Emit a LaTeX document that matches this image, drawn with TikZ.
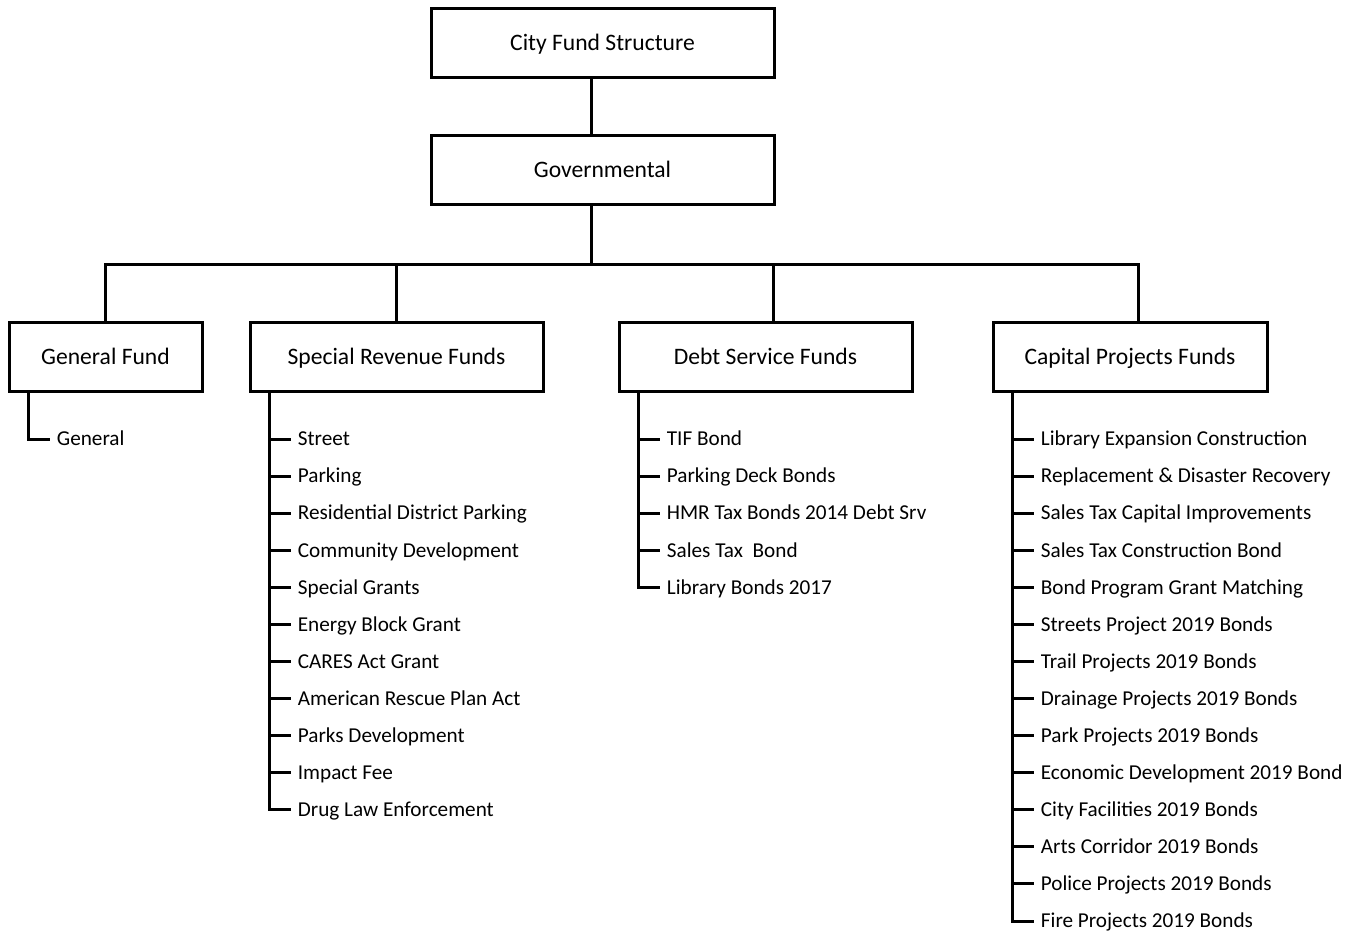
\documentclass[tikz,border=0pt]{standalone}
\usepackage{fontspec}
\setmainfont{Carlito}
\usepackage{xcolor}
\definecolor{fundblack}{RGB}{0, 0, 0}
\definecolor{white}{RGB}{255, 255, 255}

\tikzset{
  fundbox/.style={draw=fundblack, line width=1.5pt, fill=white, minimum height=34.5pt, inner sep=0pt, text height=7.6pt, text depth=0pt, font=\fontsize{11.8}{14}\selectfont},
  fundline/.style={fundblack, line width=1.5pt},
  itemtext/.style={anchor=west, inner xsep=3.5pt, inner ysep=0pt, text height=6.8pt, text depth=0pt, font=\fontsize{10.6}{12}\selectfont}
}

\begin{document}
\begin{tikzpicture}[x=0.5pt,y=-0.5pt]
        \useasboundingbox (0,0) rectangle (1359,933);

        % Top boxes
        \node[fundbox, minimum width=171.5pt] (city) at (602.5,42.5) {City Fund Structure};
        \node[fundbox, minimum width=171.5pt] (gov) at (602.5,170) {Governmental};

        % Fund type boxes
        \node[fundbox, minimum width=96.5pt] (gf) at (105.5,356.5) {General Fund};
        \node[fundbox, minimum width=146.5pt] (sr) at (396.5,356.5) {Special Revenue Funds};
        \node[fundbox, minimum width=146.5pt] (ds) at (765.5,356.5) {Debt Service Funds};
        \node[fundbox, minimum width=137pt] (cp) at (1130,356.5) {Capital Projects Funds};

        % Trunk and bus
        \coordinate (trunk) at (591,264);
        \coordinate (bgf) at (105,264);
        \coordinate (bsr) at (396,264);
        \coordinate (bds) at (773,264);
        \coordinate (bcp) at (1138,264);
        \draw[fundline] (city.south -| trunk) -- (gov.north -| trunk);
        \draw[fundline] (gov.south -| trunk) -- (trunk);
        \draw[fundline] (gf.north -| bgf) -- (bgf) -- (bcp) -- (cp.north -| bcp);
        \draw[fundline] (bsr) -- (sr.north -| bsr);
        \draw[fundline] (bds) -- (ds.north -| bds);

        % Spines below the fund boxes
        \foreach \n in {gf, sr, ds, cp} {
            \coordinate (\n-spine) at ([xshift=10.5pt]\n.south west);
        }

        % General fund list
        \foreach \txt [count=\i] in {General} {
            \node[itemtext] (gf-\i) at ([xshift=10.5pt]gf-spine |- 0,{439+37.08*(\i-1)}) {\txt};
            \draw[fundline] (gf-spine) |- (gf-\i.west);
        }

        % Special revenue list
        \foreach \txt [count=\i] in {Street, Parking, Residential District Parking, Community Development, Special Grants, Energy Block Grant, CARES Act Grant, American Rescue Plan Act, Parks Development, Impact Fee, Drug Law Enforcement} {
            \node[itemtext] (sr-\i) at ([xshift=10.5pt]sr-spine |- 0,{439+37.08*(\i-1)}) {\txt};
            \draw[fundline] (sr-spine) |- (sr-\i.west);
        }

        % Debt service list
        \foreach \txt [count=\i] in {TIF Bond, Parking Deck Bonds, HMR Tax Bonds 2014 Debt Srv, Sales Tax \ Bond, Library Bonds 2017} {
            \node[itemtext] (ds-\i) at ([xshift=10.5pt]ds-spine |- 0,{439+37.08*(\i-1)}) {\txt};
            \draw[fundline] (ds-spine) |- (ds-\i.west);
        }

        % Capital projects list
        \foreach \txt [count=\i] in {Library Expansion Construction, Replacement \& Disaster Recovery, Sales Tax Capital Improvements, Sales Tax Construction Bond, Bond Program Grant Matching, Streets Project 2019 Bonds, Trail Projects 2019 Bonds, Drainage Projects 2019 Bonds, Park Projects 2019 Bonds, Economic Development 2019 Bond, City Facilities 2019 Bonds, Arts Corridor 2019 Bonds, Police Projects 2019 Bonds, Fire Projects 2019 Bonds} {
            \node[itemtext] (cp-\i) at ([xshift=10.5pt]cp-spine |- 0,{439+37.08*(\i-1)}) {\txt};
            \draw[fundline] (cp-spine) |- (cp-\i.west);
        }
    \end{tikzpicture}
\end{document}
